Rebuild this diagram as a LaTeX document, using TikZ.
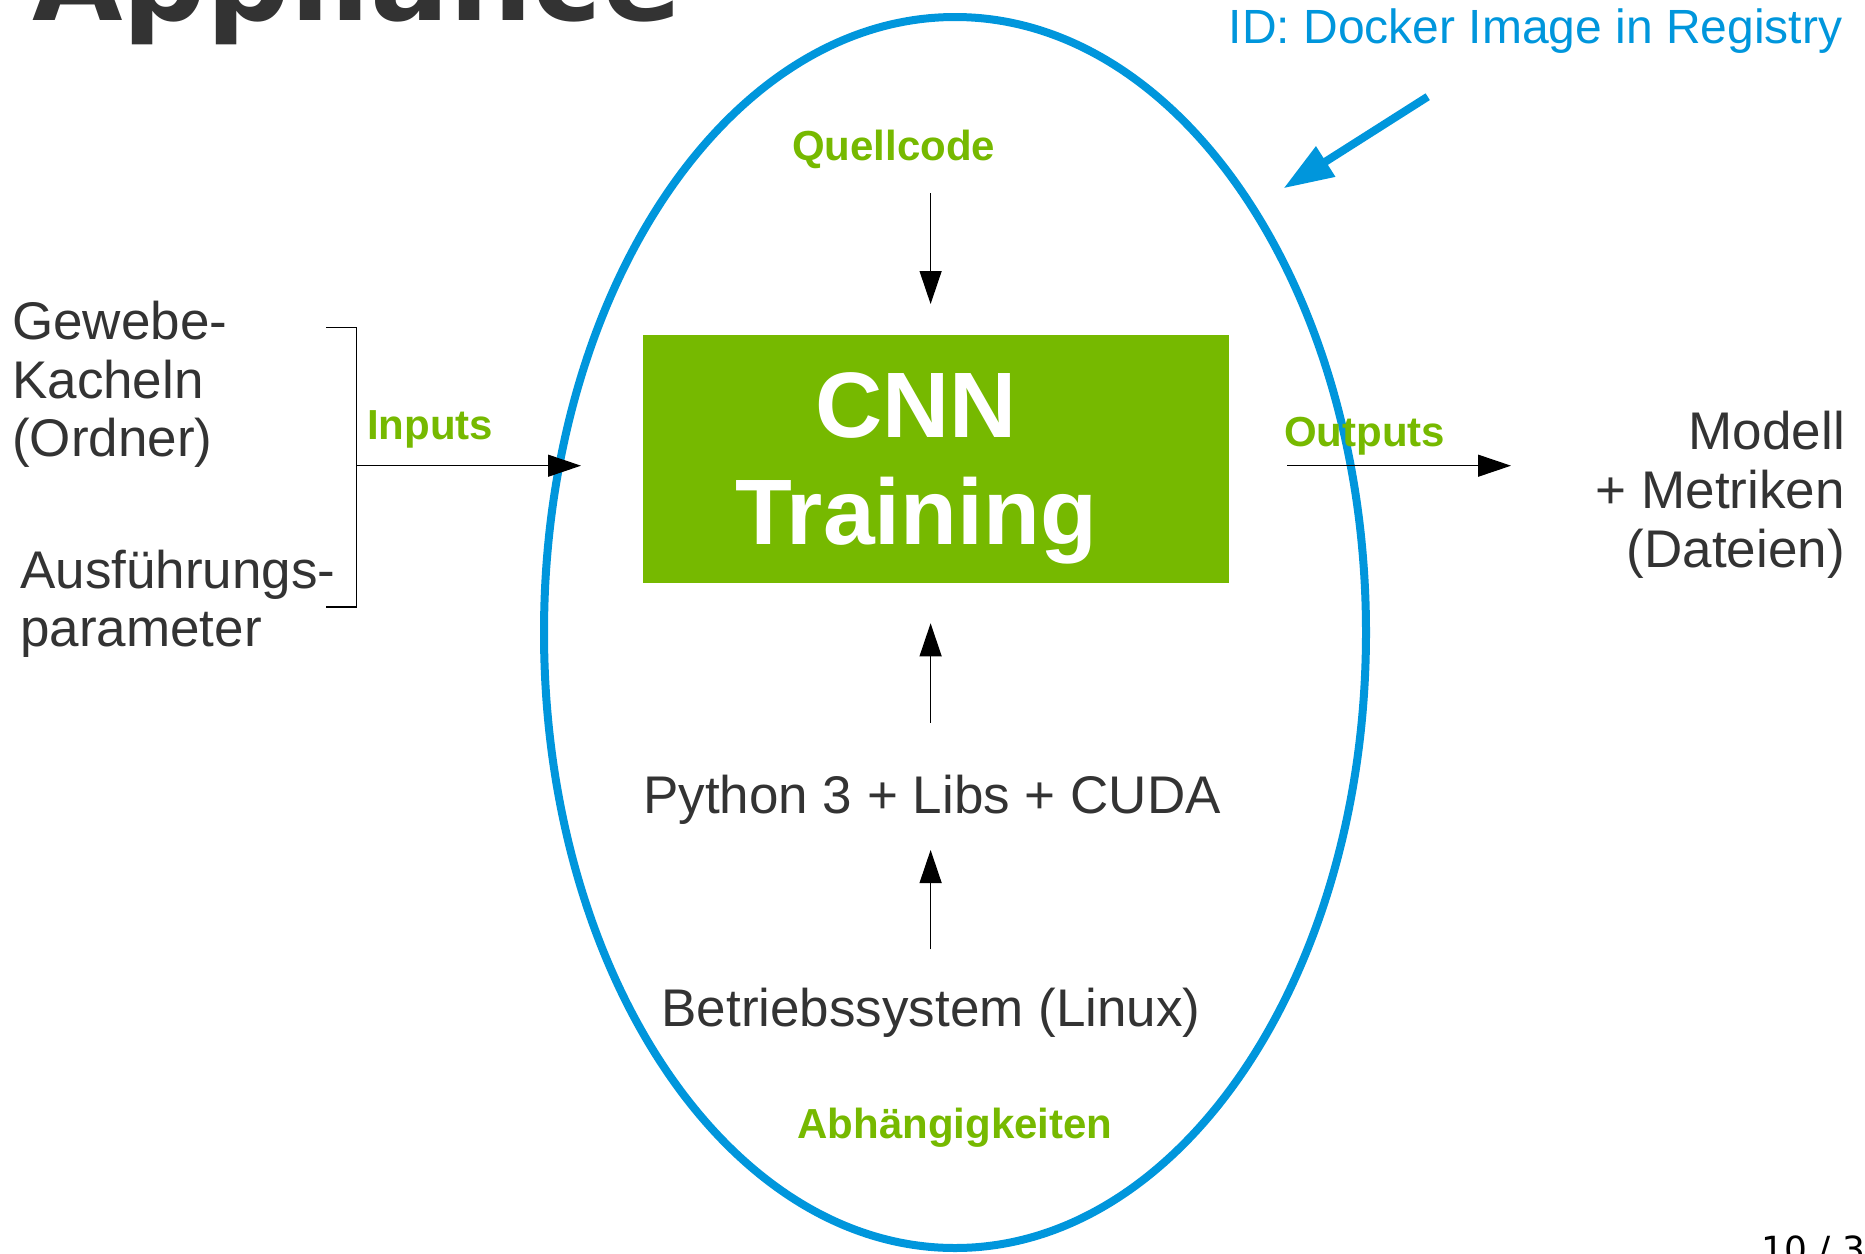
\documentclass[tikz,border=0pt]{standalone}
\usepackage{fontspec}
\setmainfont{Liberation Sans}
\newfontfamily\dejavu{DejaVu Sans}
\usetikzlibrary{arrows.meta,shapes.geometric}
\definecolor{nvgreen}{RGB}{118,185,0}
\definecolor{regblue}{RGB}{0,150,220}
\definecolor{txtgray}{RGB}{51,51,51}

\begin{document}
\begin{tikzpicture}[x=1pt,y=-1pt,
  body/.style={inner sep=0pt, text=txtgray, font=\fontsize{53}{58.6}\selectfont},
  greenlabel/.style={inner sep=0pt, text=nvgreen, font=\fontsize{42}{48}\selectfont\bfseries},
  flow/.style={draw=black, line width=1.2pt, -{Triangle[length=33pt,width=22pt]}},
  boundary/.style={draw=regblue, line width=8pt, ellipse, inner sep=0pt},
]
\useasboundingbox (0,0) rectangle (1865,1253);

% slide heading, running off the top edge
\node[inner sep=0pt, anchor=base west, text=txtgray,
      font=\dejavu\bfseries\fontsize{117}{130}\selectfont] (title) at (32,20.7) {Appliance};

% the container image
\node[boundary, minimum width=822pt, minimum height=1231pt] (image) at (955,632.5) {};

% training step (multi-line nodes sit on the baseline of their last line)
\node[fill=nvgreen, inner sep=0pt, minimum width=586.5pt, minimum height=247.7pt] (cnn) at (936.2,458.85) {};
\node[inner sep=0pt, anchor=base, align=center, text=white,
      font=\fontsize{93}{107.3}\selectfont\bfseries] (cnnlabel) at (916,544.3) {CNN\\Training};

% source code from above
\node[greenlabel, anchor=base west] (src) at (792,160.7) {Quellcode};
\coordinate (srcfrom) at (930.6,193.3);
\coordinate (srcto) at (930.6,304);
\draw[flow] (srcfrom) -- (srcto);

% dependency stack
\node[body, anchor=base] (python) at (932,813.3) {Python 3 + Libs + CUDA};
\node[body, anchor=base] (os) at (931,1026) {Betriebssystem (Linux)};
\node[greenlabel, anchor=base] (deps) at (955,1138.3) {Abhängigkeiten};
\coordinate (pyfrom) at (930.6,722.7);
\coordinate (pyto) at (930.6,623.3);
\coordinate (osfrom) at (930.6,949.3);
\coordinate (osto) at (930.6,850);
\draw[flow] (pyfrom) -- (pyto);
\draw[flow] (osfrom) -- (osto);

% inputs
\node[body, anchor=base west, align=left] (tiles) at (12,456.7) {Gewebe-\\Kacheln\\(Ordner)};
\node[body, anchor=base west, align=left] (params) at (20,646.7) {Ausführungs-\\parameter};
\coordinate (brtop) at (326,327.7);
\coordinate (brbot) at (326,607);
\coordinate (brmid) at (356.5,465.7);
\coordinate (inend) at (581,465.7);
\draw[line width=1.3pt] (brtop) -| (brmid) |- (brbot);
\node[greenlabel, anchor=base west] (inlabel) at (367,439) {Inputs};
\draw[flow] (brmid) -- (inend);

% outputs
\node[greenlabel, anchor=base west] (outlabel) at (1284,446.7) {Outputs};
\coordinate (outfrom) at (1287,465.7);
\coordinate (outto) at (1511,465.7);
\draw[flow] (outfrom) -- (outto);
\node[body, anchor=base east, align=right] (result) at (1845,567) {Modell\\+ Metriken\\(Dateien)};

% registry identifier
\node[inner sep=0pt, anchor=base west, text=regblue, font=\fontsize{48}{55}\selectfont] (imgid) at (1228.5,43.3) {ID: Docker Image in Registry};
\coordinate (idfrom) at (1427.7,96.7);
\coordinate (idto) at (1283.5,188.3);
\draw[draw=regblue, line width=8pt, -{Triangle[length=50pt,width=34pt]}] (idfrom) -- (idto);

% page number, cut by the lower edge
\node[inner sep=0pt, anchor=base west, font=\dejavu\fontsize{36}{40}\selectfont] (page) at (1761,1262) {10 / 3};
\end{tikzpicture}
\end{document}
